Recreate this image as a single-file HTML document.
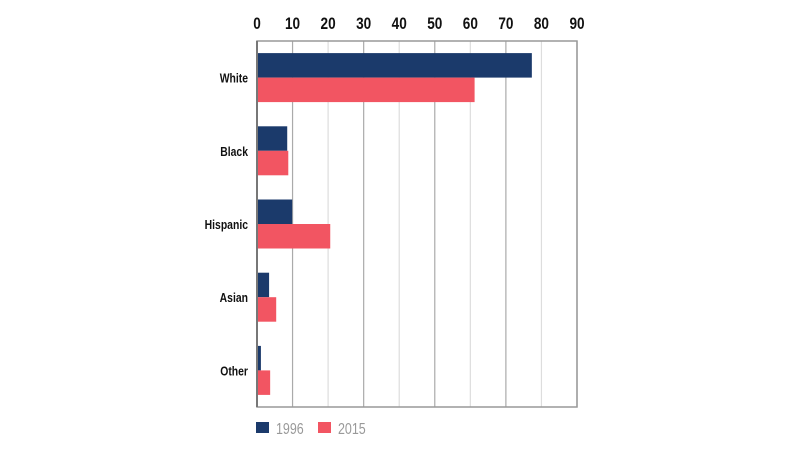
<!DOCTYPE html>
<html><head><meta charset="utf-8"><style>
body{margin:0;background:#fff;width:800px;height:450px;overflow:hidden}
text{font-family:"Liberation Sans Narrow","Liberation Sans",sans-serif}
</style></head><body>
<svg id="chart" width="800" height="450" xmlns="http://www.w3.org/2000/svg"></svg>
<script>
const categories=["White","Black","Hispanic","Asian","Other"];
const values1996=[77.3,8.5,9.9,3.4,1.1];
const values2015=[61.2,8.8,20.6,5.4,3.7];
const ticks=[0,10,20,30,40,50,60,70,80,90];
const seriesNames=["1996","2015"];
const colors=["#1b3a6b","#f25562"];
const svg=document.getElementById('chart');
const NS="http://www.w3.org/2000/svg";
const L=257,R=577,T=41,B=407;
const x=v=>L+(v/90)*(R-L);
const band=(B-T)/categories.length;
function mk(tag,attrs,txt){const e=document.createElementNS(NS,tag);for(const k in attrs)e.setAttribute(k,attrs[k]);if(txt!==undefined)e.textContent=txt;svg.appendChild(e);return e;}
ticks.forEach((t,i)=>{
  if(t>0){const g=mk('line',{x1:x(t),x2:x(t),y1:T,y2:B,stroke:i%2?'#aaa':'#ddd','stroke-width':1.2});
  
  }
  const lb=mk('text',{x:x(t),y:29,'text-anchor':'middle','font-size':17,'font-weight':'bold',fill:'#111',transform:`translate(${x(t)},0) scale(0.8,1) translate(${-x(t)},0)`},t);
  
  
});
const box=mk('rect',{x:L,y:T,width:R-L,height:B-T,fill:'none',stroke:'#999','stroke-width':1.5});


categories.forEach((c,i)=>{
  const cy=T+band*i+band/2;
  const b1=mk('rect',{x:L,y:cy-24.5,width:x(values1996[i])-L,height:24.5,fill:colors[0]});
  
  
  const b2=mk('rect',{x:L,y:cy,width:x(values2015[i])-L,height:24.5,fill:colors[1]});
  
  
  const t=mk('text',{x:248,y:cy+5,'text-anchor':'end','font-size':13,'font-weight':'bold',fill:'#111',transform:`translate(248,0) scale(0.8,1) translate(-248,0)`},c);
  
  
});
const axis=mk('line',{x1:L,x2:L,y1:T,y2:B,stroke:'#777','stroke-width':2});


seriesNames.forEach((s,i)=>{
  const lx=256+i*62;
  const sq=mk('rect',{x:lx,y:422,width:13,height:11,fill:colors[i]});
  
  
  const tx=mk('text',{x:lx+20,y:434,'font-size':16,fill:'#999',transform:`translate(${lx+20},0) scale(0.78,1) translate(${-(lx+20)},0)`},s);
  
  
});
</script>
</body></html>
